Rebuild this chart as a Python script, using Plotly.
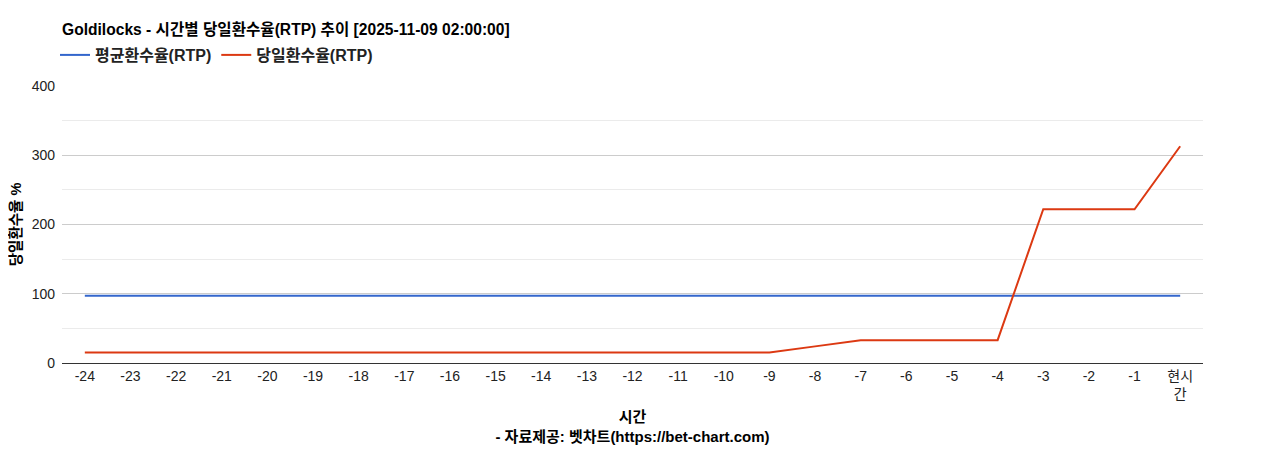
import plotly.graph_objects as go

hours = ['-24', '-23', '-22', '-21', '-20', '-19', '-18', '-17', '-16', '-15', '-14', '-13',
         '-12', '-11', '-10', '-9', '-8', '-7', '-6', '-5', '-4', '-3', '-2', '-1', '현시간']
hour_labels = hours[:-1] + ['현시<br>간']
avg_rtp = [97] * 25
day_rtp = [15, 15, 15, 15, 15, 15, 15, 15, 15, 15, 15, 15,
           15, 15, 15, 15, 24, 33, 33, 33, 33, 222, 222, 222, 313]

font = 'Liberation Sans, Arial, Noto Sans CJK KR, sans-serif'

# page has an 8px body margin, so the figure is offset by 8px
fig = go.Figure()
fig.add_trace(go.Scatter(x=hours, y=avg_rtp, mode='lines', name='<b>평균환수율(RTP)</b>',
                         line=dict(color='#3366cc', width=2)))
fig.add_trace(go.Scatter(x=hours, y=day_rtp, mode='lines', name='<b>당일환수율(RTP)</b>',
                         line=dict(color='#dc3912', width=2)))

fig.update_layout(
    width=1268, height=450,
    margin=dict(l=54, r=73, t=78, b=95),
    paper_bgcolor='white', plot_bgcolor='white',
    font=dict(family=font, size=14, color='#222'),
    title=dict(text='<b>Goldilocks - 시간별 당일환수율(RTP) 추이 [2025-11-09 02:00:00]</b>',
               x=54 / 1268, xanchor='left', y=1 - 22 / 450, yanchor='middle',
               font=dict(size=15.6, color='#000')),
    legend=dict(orientation='h', x=-7 / 1141, xanchor='left', y=1 + 31 / 277, yanchor='middle',
                font=dict(size=16, color='#222'), itemwidth=30, tracegroupgap=0),
    showlegend=True,
)
fig.update_xaxes(
    type='category', tickmode='array', tickvals=hours, ticktext=hour_labels,
    range=[-0.5, 24.5], showgrid=False, showline=True, linecolor='#333', linewidth=1,
    ticks='', tickfont=dict(size=14, color='#222'), automargin=False,
    title=dict(text='<b>시간</b><br><b>- 자료제공: 벳차트(https://bet-chart.com)</b>',
               font=dict(size=15, color='#000'), standoff=10),
)
fig.update_yaxes(
    range=[0, 400], dtick=100, showgrid=True, gridcolor='#cccccc', zeroline=False,
    showline=False, ticks='', tickfont=dict(size=14, color='#222'), automargin=False,
    ticklabelstandoff=6,
    minor=dict(dtick=50, showgrid=True, gridcolor='#ebebeb'),
    title=dict(text='<b>당일환수율 %</b>', font=dict(size=14.5, color='#000'), standoff=14),
)

fig.write_html('out.html')
